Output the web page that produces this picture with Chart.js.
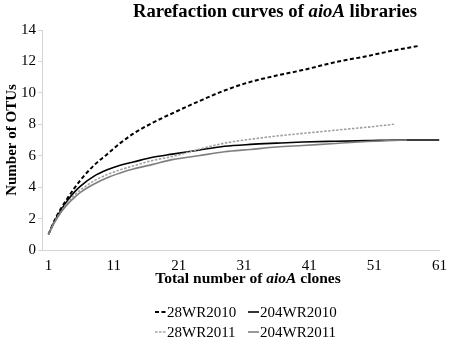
<!DOCTYPE html>
<html><head><meta charset="utf-8">
<script src="https://cdn.jsdelivr.net/npm/chart.js@4.4.1/dist/chart.umd.min.js"></script>
<style>html,body{margin:0;padding:0;background:#fff}canvas{display:block}</style>
</head><body>
<canvas id="c" width="454" height="345"></canvas>
<script>
// ---- data ----
const seriesNames = ['28WR2010', '204WR2010', '28WR2011', '204WR2011'];
const clones28WR2010 = [1, 2, 3, 4, 5, 6, 8, 10, 12, 14, 17, 20, 24, 28, 32, 36, 40, 45, 50, 54, 58];
const otus28WR2010   = [1, 1.95, 2.7, 3.35, 3.95, 4.5, 5.4, 6.1, 6.8, 7.4, 8.1, 8.7, 9.45, 10.15, 10.7, 11.1, 11.45, 11.95, 12.35, 12.7, 13];
const clones204WR2010 = [1, 2, 3, 4, 5, 6, 8, 10, 12, 14, 17, 20, 24, 28, 32, 36, 40, 45, 50, 55, 61];
const otus204WR2010   = [1, 1.9, 2.6, 3.2, 3.7, 4.1, 4.7, 5.1, 5.4, 5.6, 5.9, 6.1, 6.35, 6.6, 6.72, 6.8, 6.87, 6.92, 6.96, 7, 7];
const clones28WR2011 = [1, 2, 3, 4, 5, 6, 8, 10, 12, 14, 17, 20, 24, 28, 32, 36, 40, 45, 50, 54];
const otus28WR2011   = [1, 1.85, 2.5, 3.05, 3.5, 3.85, 4.4, 4.8, 5.1, 5.35, 5.7, 5.95, 6.4, 6.8, 7.05, 7.25, 7.42, 7.62, 7.82, 8];
const clones204WR2011 = [1, 2, 3, 4, 5, 6, 8, 10, 12, 14, 17, 20, 24, 28, 32, 36, 40, 45, 50, 56];
const otus204WR2011   = [1, 1.8, 2.45, 2.95, 3.35, 3.7, 4.2, 4.6, 4.9, 5.15, 5.45, 5.75, 6.0, 6.25, 6.4, 6.55, 6.65, 6.78, 6.9, 7];
const xTickLabels = [1, 11, 21, 31, 41, 51, 61];
const yTickLabels = [0, 2, 4, 6, 8, 10, 12, 14];

const pts = (xs, ys) => xs.map((x, i) => ({x: x, y: ys[i]}));
const SERIF = "'Liberation Serif', 'Times New Roman', serif";

const styles = [
  {borderColor: '#000000', borderWidth: 2, borderDash: [4, 2.5]},
  {borderColor: '#000000', borderWidth: 1.6, borderDash: []},
  {borderColor: '#a0a0a0', borderWidth: 1.6, borderDash: [2.5, 1.5]},
  {borderColor: '#7f7f7f', borderWidth: 1.6, borderDash: []}
];
const seriesData = [
  pts(clones28WR2010, otus28WR2010),
  pts(clones204WR2010, otus204WR2010),
  pts(clones28WR2011, otus28WR2011),
  pts(clones204WR2011, otus204WR2011)
];
const drawOrder = [3, 2, 1, 0];

function drawRich(ctx, parts, cx, cy, size) {
  let total = 0;
  parts.forEach(p => { ctx.font = p[1] + ' ' + size + 'px ' + SERIF; total += ctx.measureText(p[0]).width; });
  let x = cx - total / 2;
  ctx.textBaseline = 'middle';
  ctx.textAlign = 'left';
  ctx.fillStyle = '#000';
  parts.forEach(p => {
    ctx.font = p[1] + ' ' + size + 'px ' + SERIF;
    ctx.fillText(p[0], x, cy);
    x += ctx.measureText(p[0]).width;
  });
}

const decorPlugin = {
  id: 'decor',
  afterDraw(chart) {
    const ctx = chart.ctx;
    ctx.save();
    drawRich(ctx, [['Rarefaction curves of ', 'bold'], ['aioA', 'italic bold'], [' libraries', 'bold']], 275, 12, 18.7);
    drawRich(ctx, [['Total number of ', 'bold'], ['aioA', 'italic bold'], [' clones', 'bold']], 248, 279, 15.5);
    const cols = [155, 248];
    const rows = [312, 332];
    const slot = [[0, 0], [1, 0], [0, 1], [1, 1]];
    chart.data.datasets.forEach((ds, i) => {
      const [c, r] = slot[i];
      const x0 = cols[c], y0 = rows[r];
      ctx.beginPath();
      ctx.strokeStyle = ds.borderColor;
      ctx.lineWidth = ds.borderWidth;
      ctx.setLineDash(ds.borderDash);
      ctx.moveTo(x0, y0);
      ctx.lineTo(x0 + 11, y0);
      ctx.stroke();
      ctx.setLineDash([]);
      ctx.font = '15px ' + SERIF;
      ctx.fillStyle = '#000';
      ctx.textBaseline = 'middle';
      ctx.textAlign = 'left';
      ctx.fillText(ds.label, x0 + 12, y0 + 1);
    });
    ctx.restore();
  }
};

new Chart(document.getElementById('c'), {
  type: 'line',
  data: {
    datasets: seriesNames.map((name, i) => ({
      label: name,
      data: seriesData[i],
      borderColor: styles[i].borderColor,
      borderWidth: styles[i].borderWidth,
      borderDash: styles[i].borderDash,
      pointRadius: 0,
      fill: false,
      cubicInterpolationMode: 'monotone',
      order: drawOrder[i]
    }))
  },
  options: {
    responsive: false,
    devicePixelRatio: 1,
    animation: false,
    layout: {padding: {top: 30, right: 7, bottom: 63, left: 0}},
    plugins: {legend: {display: false}, title: {display: false}, tooltip: {enabled: false}},
    scales: {
      x: {
        type: 'linear', min: 0, max: 61,
        afterBuildTicks: s => { s.ticks = xTickLabels.map(v => ({value: v})); },
        grid: {display: false, drawTicks: false},
        border: {display: true, color: '#d4d4d4', width: 1},
        ticks: {font: {family: SERIF, size: 15}, color: '#000', padding: 7, autoSkip: false, maxRotation: 0}
      },
      y: {
        min: 0, max: 14,
        afterBuildTicks: s => { s.ticks = yTickLabels.map(v => ({value: v})); },
        afterFit: s => { s.width = 42; },
        grid: {drawOnChartArea: false, drawTicks: true, tickLength: 4, color: '#d4d4d4'},
        border: {display: true, color: '#d4d4d4', width: 1},
        ticks: {font: {family: SERIF, size: 15}, color: '#000', padding: 2},
        title: {display: true, text: 'Number of OTUs', color: '#000', font: {family: SERIF, size: 15, weight: 'bold'}, padding: {top: 3, bottom: 0}}
      }
    }
  },
  plugins: [decorPlugin]
});
</script>
</body></html>
